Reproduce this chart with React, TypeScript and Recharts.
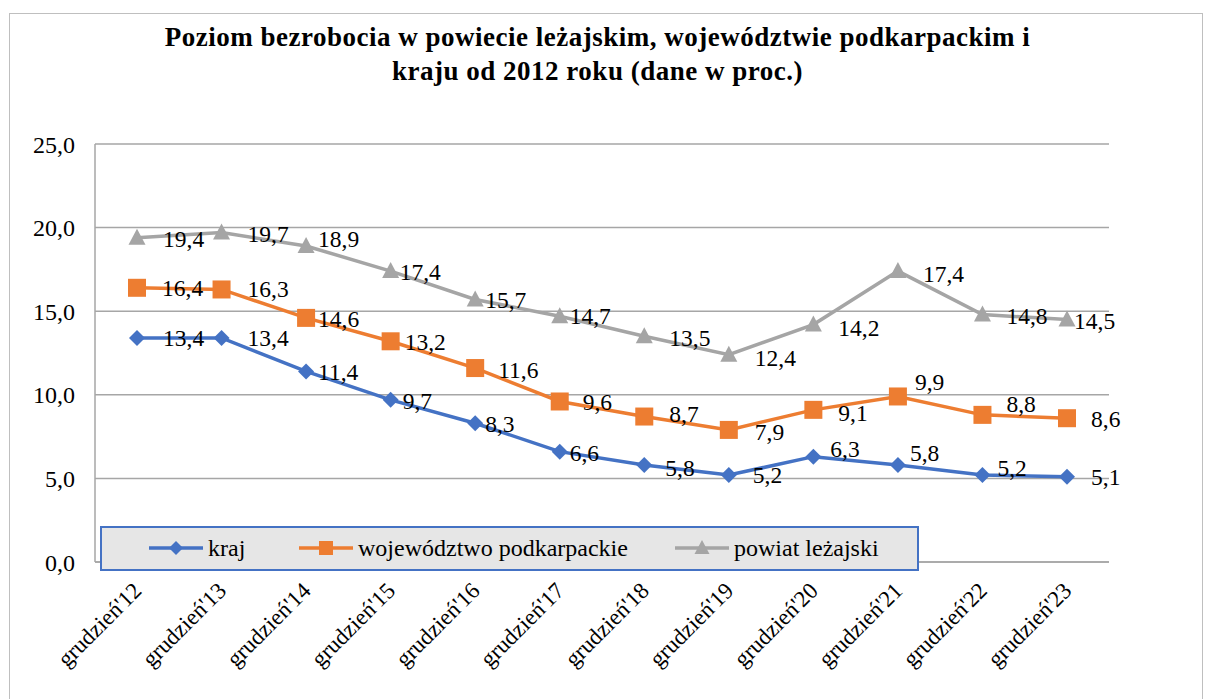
import React from 'react';
import { LineChart, Line, XAxis, YAxis, CartesianGrid, Legend, LabelList } from 'recharts';

const categories = ["grudzień'12", "grudzień'13", "grudzień'14", "grudzień'15", "grudzień'16", "grudzień'17", "grudzień'18", "grudzień'19", "grudzień'20", "grudzień'21", "grudzień'22", "grudzień'23"];
const kraj = [13.4, 13.4, 11.4, 9.7, 8.3, 6.6, 5.8, 5.2, 6.3, 5.8, 5.2, 5.1];
const wojewodztwo = [16.4, 16.3, 14.6, 13.2, 11.6, 9.6, 8.7, 7.9, 9.1, 9.9, 8.8, 8.6];
const powiat = [19.4, 19.7, 18.9, 17.4, 15.7, 14.7, 13.5, 12.4, 14.2, 17.4, 14.8, 14.5];
const yTicks = [0, 5, 10, 15, 20, 25];
const seriesNames = ['kraj', 'województwo podkarpackie', 'powiat leżajski'];

// label placement offsets (style only)
const krajDx = [26, 26, 12, 12, 10, 10, 21, 24, 17, 12, 15, 24];
const krajDy = [0, 0, 1, 1, 1, 1, 3, 0, -8, -12, -7, 0];
const wojDx = [25, 26, 12, 14, 23, 23, 25, 26, 25, 17, 24, 24];
const wojDy = [0, 0, 1, 1, 2, 1, -3, 2, 3, -14, -11, 1];
const powDx = [26, 26, 12, 9, 10, 10, 25, 26, 25, 25, 24, 7];
const powDy = [1, 1, -7, 1, 1, 0, 2, 3, 3, 3, 1, 1];

const BLUE = '#4472C4';
const ORANGE = '#ED7D31';
const GRAY = '#A5A5A5';
const GRID = '#A6A6A6';
const FONT = '"Liberation Serif", "Times New Roman", serif';

const data = categories.map((c, i) => ({ cat: c, kraj: kraj[i], woj: wojewodztwo[i], pow: powiat[i] }));

const fmt = (v: number) => v.toFixed(1).replace('.', ',');

const diamondPts = (cx: number, cy: number, r: number) => `${cx},${cy - r} ${cx + r},${cy} ${cx},${cy + r} ${cx - r},${cy}`;
const trianglePts = (cx: number, cy: number) => `${cx},${cy - 9} ${cx + 8.5},${cy + 7} ${cx - 8.5},${cy + 7}`;

const DiamondDot = (p: any) => {
  const { cx, cy, index } = p;
  if (cx == null || cy == null) return <g key={`kd${index}`} />;
  return <polygon key={`kd${index}`} points={diamondPts(cx, cy, 8)} fill={BLUE} />;
};
const SquareDot = (p: any) => {
  const { cx, cy, index } = p;
  if (cx == null || cy == null) return <g key={`wd${index}`} />;
  return <rect key={`wd${index}`} x={cx - 9} y={cy - 9} width={18} height={18} fill={ORANGE} />;
};
const TriangleDot = (p: any) => {
  const { cx, cy, index } = p;
  if (cx == null || cy == null) return <g key={`pd${index}`} />;
  return <polygon key={`pd${index}`} points={trianglePts(cx, cy)} fill={GRAY} />;
};

const makeLabel = (dxs: number[], dys: number[]) => (p: any) => {
  const { x, y, value, index } = p;
  if (x == null || y == null) return null;
  return (
    <text x={x + dxs[index]} y={y + dys[index]} dominantBaseline="central" textAnchor="start" fontSize={23.5} fontFamily={FONT} fill="#000">
      {fmt(Number(value))}
    </text>
  );
};

const XTick = (p: any) => {
  const { x, y, payload } = p;
  const ax = x + 6;
  const ay = y + 22;
  return (
    <text x={ax} y={ay} transform={`rotate(-45, ${ax}, ${ay})`} textAnchor="end" fontSize={23} fontFamily={FONT} fill="#000">
      {payload.value}
    </text>
  );
};

const LegendBox = () => {
  const items = [
    { name: seriesNames[0], color: BLUE, lx: 49, shape: 'diamond' },
    { name: seriesNames[1], color: ORANGE, lx: 199, shape: 'square' },
    { name: seriesNames[2], color: GRAY, lx: 575, shape: 'triangle' },
  ];
  return (
    <svg width={819} height={45} style={{ display: 'block' }}>
      <rect x={1} y={1} width={817} height={43} fill="#E6E6E6" stroke={BLUE} strokeWidth={2} />
      {items.map((it) => {
        const cx = it.lx + 27;
        const cy = 22;
        let marker;
        if (it.shape === 'diamond') marker = <polygon points={diamondPts(cx, cy, 7)} fill={it.color} />;
        else if (it.shape === 'square') marker = <rect x={cx - 7} y={cy - 7} width={14} height={14} fill={it.color} />;
        else marker = <polygon points={`${cx},${cy - 8} ${cx + 7.5},${cy + 6} ${cx - 7.5},${cy + 6}`} fill={it.color} />;
        return (
          <g key={it.name}>
            <line x1={it.lx} x2={it.lx + 54} y1={cy} y2={cy} stroke={it.color} strokeWidth={3.5} />
            {marker}
            <text x={it.lx + 59} y={cy} dominantBaseline="central" fontSize={24} fontFamily={FONT} fill="#000">
              {it.name}
            </text>
          </g>
        );
      })}
    </svg>
  );
};

export default function App() {
  return (
    <div style={{ position: 'absolute', left: 0, top: 0, width: 1205, height: 699, background: '#fff', overflow: 'hidden' }}>
      <div style={{ position: 'absolute', left: 9, top: 13, width: 1194, height: 720, border: '1.5px solid #BFBFBF', boxSizing: 'border-box' }} />
      <div
        style={{
          position: 'absolute',
          left: 0,
          top: 20,
          width: 1195,
          textAlign: 'center',
          fontFamily: FONT,
          fontWeight: 'bold',
          fontSize: 27,
          letterSpacing: 0.5,
          lineHeight: '34px',
          color: '#000',
        }}
      >
        Poziom bezrobocia w powiecie leżajskim, województwie podkarpackim i<br />
        kraju od 2012 roku (dane w proc.)
      </div>
      <div style={{ position: 'absolute', left: 0, top: 0 }}>
        <LineChart width={1205} height={699} data={data} margin={{ top: 144, right: 96, bottom: 0, left: 0 }}>
          <CartesianGrid vertical={false} stroke={GRID} strokeWidth={1.5} />
          <XAxis
            dataKey="cat"
            height={137}
            padding={{ left: 42, right: 42 }}
            axisLine={{ stroke: GRID, strokeWidth: 1.5 }}
            tickLine={false}
            interval={0}
            tick={<XTick />}
          />
          <YAxis
            width={95}
            domain={[0, 25]}
            ticks={yTicks}
            tickFormatter={(v: number) => fmt(v)}
            axisLine={{ stroke: GRID, strokeWidth: 1.5 }}
            tickLine={false}
            tickSize={0}
            tickMargin={20}
            tick={{ fontSize: 24, fontFamily: FONT, fill: '#000' }}
          />
          <Line dataKey="kraj" name={seriesNames[0]} stroke={BLUE} strokeWidth={3.5} dot={DiamondDot} activeDot={false} isAnimationActive={false}>
            <LabelList dataKey="kraj" content={makeLabel(krajDx, krajDy)} />
          </Line>
          <Line dataKey="woj" name={seriesNames[1]} stroke={ORANGE} strokeWidth={3.5} dot={SquareDot} activeDot={false} isAnimationActive={false}>
            <LabelList dataKey="woj" content={makeLabel(wojDx, wojDy)} />
          </Line>
          <Line dataKey="pow" name={seriesNames[2]} stroke={GRAY} strokeWidth={3.5} dot={TriangleDot} activeDot={false} isAnimationActive={false}>
            <LabelList dataKey="pow" content={makeLabel(powDx, powDy)} />
          </Line>
          <Legend
            layout="horizontal"
            align="center"
            verticalAlign="middle"
            content={() => <LegendBox />}
            wrapperStyle={{ left: 100, top: 526, width: 819, height: 45 }}
          />
        </LineChart>
      </div>
    </div>
  );
}
